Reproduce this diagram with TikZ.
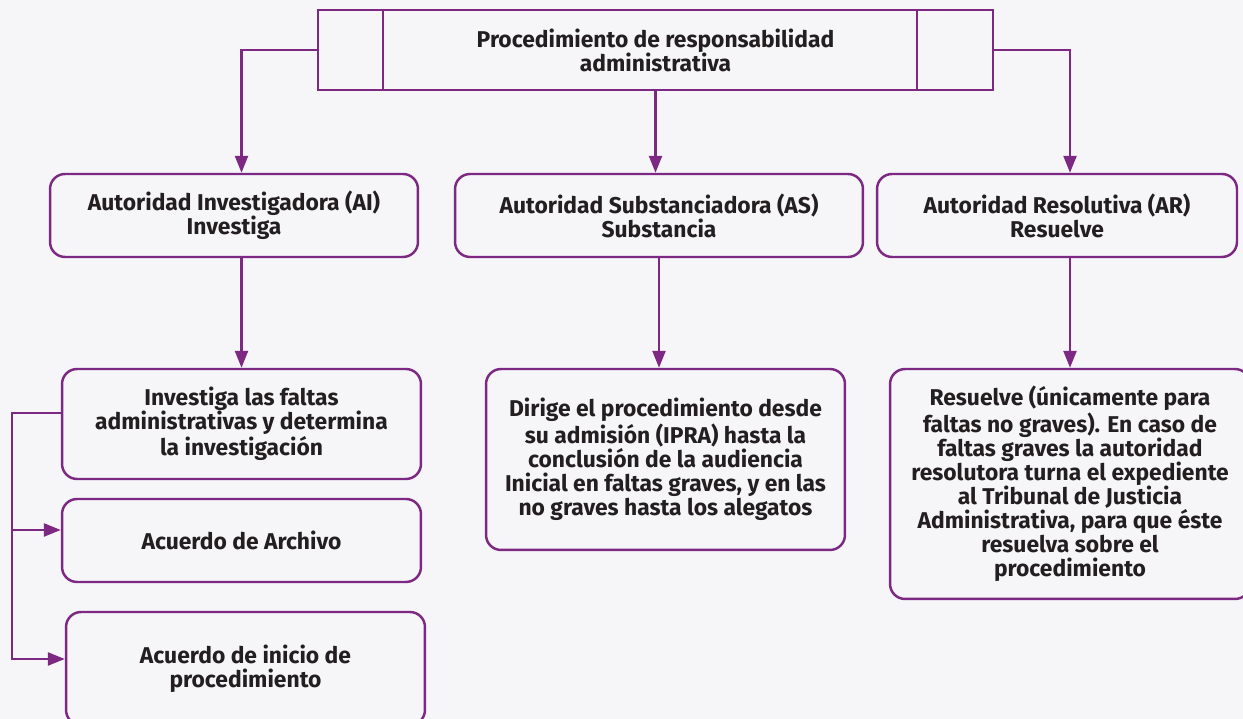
\documentclass[tikz,border=0pt]{standalone}
\usepackage{fontspec}
\setmainfont{Fira Sans}
\usetikzlibrary{arrows.meta}
\definecolor{lila}{RGB}{125,40,130}
\definecolor{tinta}{RGB}{35,31,32}
\definecolor{fondo}{RGB}{246,246,248}

\tikzstyle{bS}=[rectangle,rounded corners=0.3cm,draw=lila,line width=1.4pt,inner sep=0pt,font=\bfseries\fontsize{13}{13.7}\selectfont,text=tinta,align=center]
\tikzstyle{lS}=[draw=lila,line width=1.4pt]
\tikzstyle{aS}=[draw=lila,line width=1.4pt,-{Triangle[length=0.34cm,width=0.26cm]}]

\begin{document}
\begin{tikzpicture}[x=0.02cm,y=0.02cm]
    \fill[fondo] (0,0) rectangle (1243,719);
    \useasboundingbox (0,0) rectangle (1243,719);
    \draw (655.5,669) node[bS,rounded corners=0pt,minimum width=13.5cm,minimum height=1.6cm] (proc) {Procedimiento de responsabilidad\\administrativa};
    \draw (234,503.5) node[bS,minimum width=7.36cm,minimum height=1.66cm] (ai) {Autoridad Investigadora (AI)\\Investiga};
    \draw (659,503.5) node[bS,minimum width=8.16cm,minimum height=1.66cm] (as) {Autoridad Substanciadora (AS)\\Substancia};
    \draw (1057,503.5) node[bS,minimum width=7.2cm,minimum height=1.66cm] (ar) {Autoridad Resolutiva (AR)\\Resuelve};
    \draw (241.5,295) node[bS,minimum width=7.18cm,minimum height=2.2cm] (inv) {Investiga las faltas\\administrativas y determina\\la investigación};
    \draw (241.5,178.5) node[bS,minimum width=7.18cm,minimum height=1.66cm] (arc) {Acuerdo de Archivo};
    \draw (245.5,50.5) node[bS,minimum width=7.18cm,minimum height=2.26cm] (ini) {Acuerdo de inicio de\\procedimiento};
    \draw (665.5,259.5) node[bS,minimum width=7.18cm,minimum height=3.62cm] (dir) {Dirige el procedimiento desde\\su admisión (IPRA) hasta la\\conclusión de la audiencia\\Inicial en faltas graves, y en las\\no graves hasta los alegatos};
    \draw (1070,235) node[bS,minimum width=7.2cm,minimum height=4.6cm] (res) {Resuelve (únicamente para\\faltas no graves). En caso de\\faltas graves la autoridad\\resolutora turna el expediente\\al Tribunal de Justicia\\Administrativa, para que éste\\resuelva sobre el\\procedimiento};

    % side cells of the title box
    \draw[lS] ([xshift=1.32cm]proc.north west) -- ([xshift=1.32cm]proc.south west);
    \draw[lS] ([xshift=-1.54cm]proc.north east) -- ([xshift=-1.54cm]proc.south east);

    \coordinate (lT) at (12,306);
    \coordinate (lM) at (12,189);
    \coordinate (lB) at (12,60);

    \draw[aS] (proc.west) -| (ai.north -| inv.north);
    \draw[aS] (proc.south) -- (proc.south |- as.north);
    \draw[aS] (proc.east) -| (ar.north -| res.north);
    \draw[aS] (ai.south -| inv.north) -- (inv.north);
    \draw[aS] (as.south) -- (as.south |- dir.north);
    \draw[aS] (ar.south -| res.north) -- (res.north);
    \draw[aS] (inv.west |- lT) -- (lT) -- (lB) -- (lB -| ini.west);
    \draw[aS] (lM) -- (lM -| arc.west);
\end{tikzpicture}
\end{document}
